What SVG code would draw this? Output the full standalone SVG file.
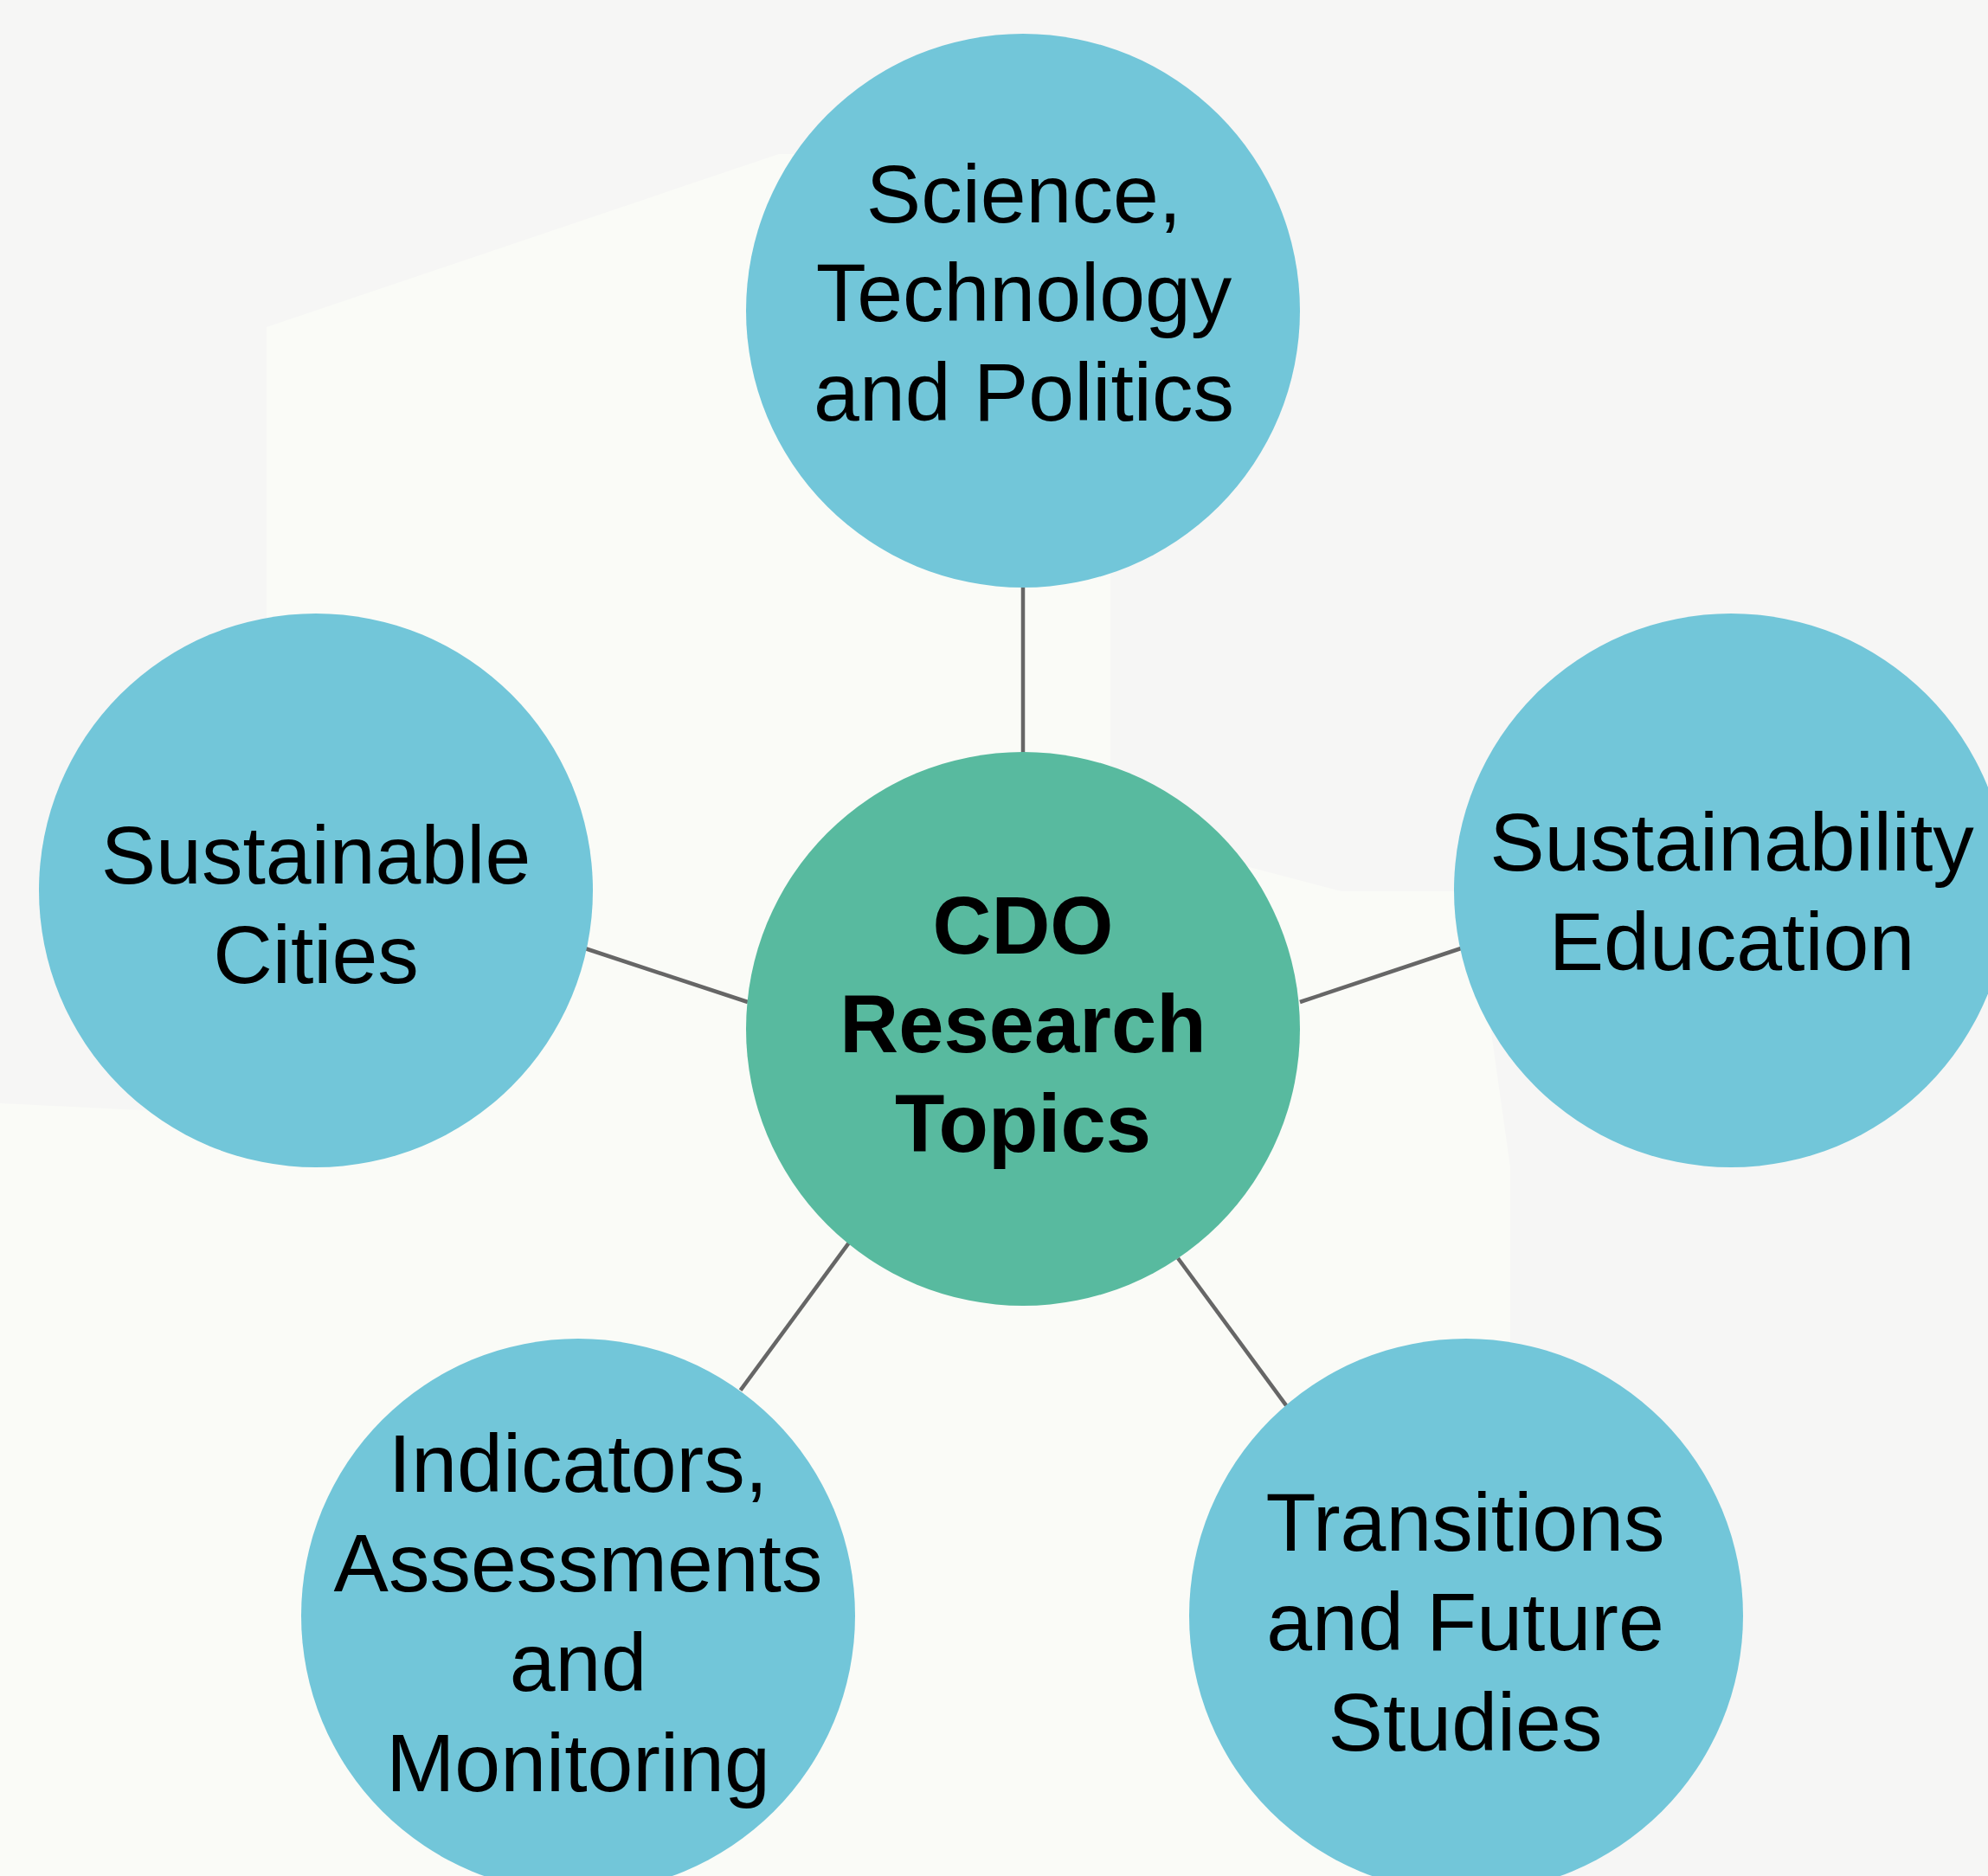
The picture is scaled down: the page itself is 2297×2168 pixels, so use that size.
<svg xmlns="http://www.w3.org/2000/svg" width="2297" height="2168" viewBox="0 0 2297 2168">
<style>
.outer{fill:#72C6D9;}
.hub{fill:#58BA9F;}
.lbl{font-family:"Liberation Sans",Arial,Helvetica,sans-serif;font-size:95px;fill:#000;text-anchor:middle;}
.bold{font-weight:bold;font-size:94px;}
.conn{stroke:#666666;stroke-width:4.5;fill:none;}
</style>
<g id="background">
<rect x="0" y="0" width="2297" height="2168" fill="#F6F6F5"/>
<path d="M308,378 L900,178 L1283,178 L1283,960 L1550,1030 L1700,1030 L1745,1349 L1745,2168 L0,2168 L0,1275 L308,1290 Z" fill="#FAFBF7"/>
</g>
<g id="connectors">
<line class="conn" x1="1182" y1="679" x2="1182" y2="870"/>
<line class="conn" x1="676" y1="1096" x2="864" y2="1158"/>
<line class="conn" x1="1502" y1="1158" x2="1688" y2="1096"/>
<line class="conn" x1="855.6" y1="1606.7" x2="980.6" y2="1436.7"/>
<line class="conn" x1="1361" y1="1454" x2="1486.2" y2="1624.3"/>
</g>
<g id="node-center">
<circle class="hub" cx="1182" cy="1189" r="320"/>
<text class="lbl bold" x="1182" y="1102">CDO</text>
<text class="lbl bold" x="1182" y="1216">Research</text>
<text class="lbl bold" x="1182" y="1331">Topics</text>
</g>
<g id="node-science">
<circle class="outer" cx="1182" cy="359" r="320"/>
<text class="lbl" x="1183" y="257">Science,</text>
<text class="lbl" x="1183" y="371">Technology</text>
<text class="lbl" x="1183" y="486">and Politics</text>
</g>
<g id="node-cities">
<circle class="outer" cx="365" cy="1029" r="320"/>
<text class="lbl" x="365" y="1021">Sustainable</text>
<text class="lbl" x="365" y="1136">Cities</text>
</g>
<g id="node-education">
<circle class="outer" cx="2000" cy="1029" r="320"/>
<text class="lbl" x="2001" y="1006">Sustainability</text>
<text class="lbl" x="2001" y="1121">Education</text>
</g>
<g id="node-indicators">
<circle class="outer" cx="668" cy="1867" r="320"/>
<text class="lbl" x="668" y="1724">Indicators,</text>
<text class="lbl" x="668" y="1839">Assessments</text>
<text class="lbl" x="668" y="1954">and</text>
<text class="lbl" x="668" y="2070">Monitoring</text>
</g>
<g id="node-transitions">
<circle class="outer" cx="1694" cy="1867" r="320"/>
<text class="lbl" x="1693" y="1792">Transitions</text>
<text class="lbl" x="1693" y="1907">and Future</text>
<text class="lbl" x="1693" y="2023">Studies</text>
</g>
</svg>
